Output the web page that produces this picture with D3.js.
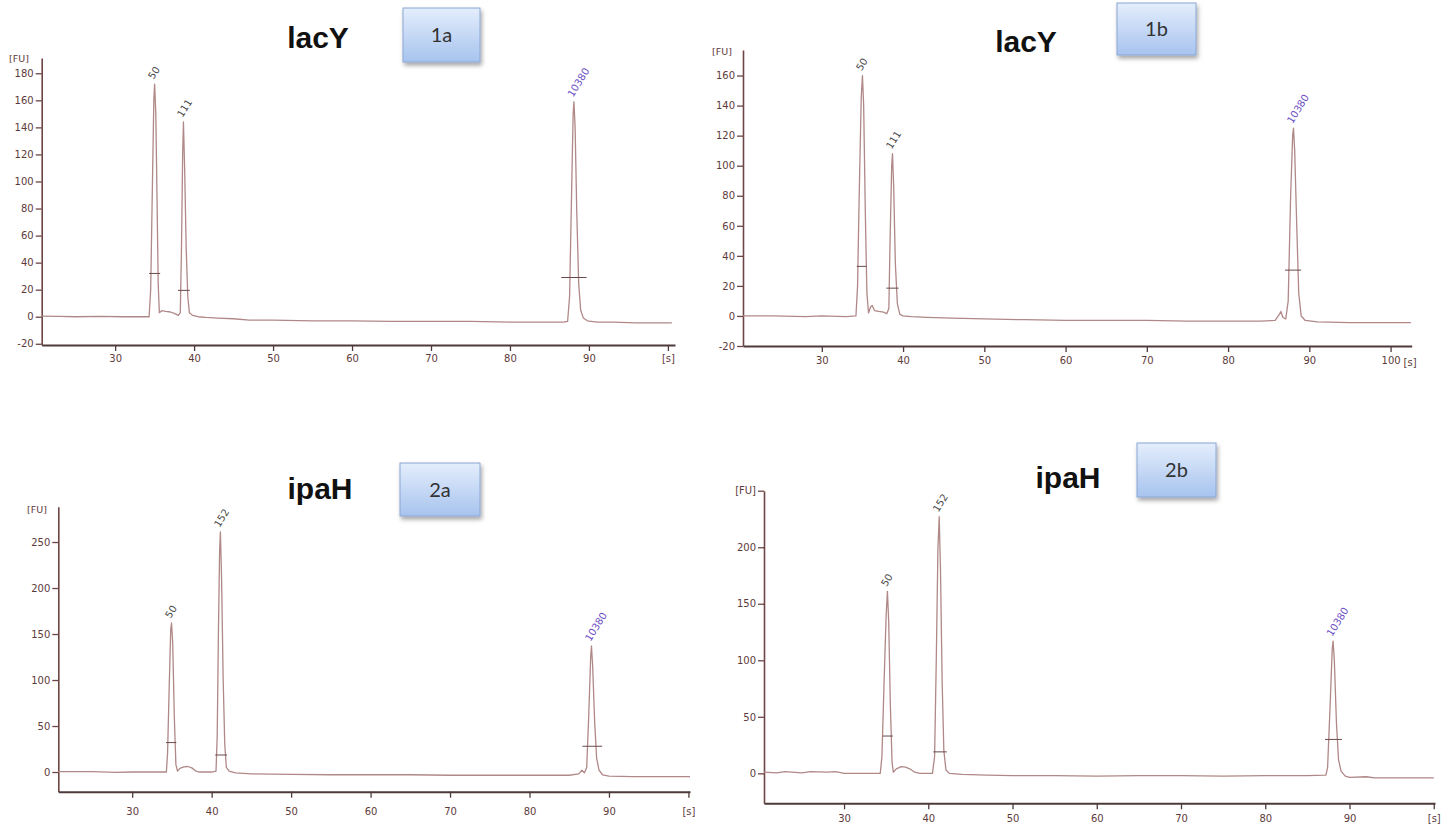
<!DOCTYPE html>
<html><head><meta charset="utf-8">
<script src="https://cdn.jsdelivr.net/npm/d3@7"></script>
<style>
body{margin:0;background:#fff;}
svg{display:block;}
.tick text{font-family:"DejaVu Sans",Verdana,sans-serif;font-size:10px;fill:#5e3b3b;}
</style></head>
<body>
<svg id="chart" width="1451" height="832"></svg>
<script>
// ---------- DATA ----------
const titles = ["lacY", "lacY", "ipaH", "ipaH"];
const boxLabels = ["1a", "1b", "2a", "2b"];

const yTicks1a = [-20, 0, 20, 40, 60, 80, 100, 120, 140, 160, 180];
const yTicks1b = [-20, 0, 20, 40, 60, 80, 100, 120, 140, 160];
const yTicks2a = [0, 50, 100, 150, 200, 250];
const yTicks2b = [0, 50, 100, 150, 200, 250];
const yTickLabels2b = ["0", "50", "100", "150", "200", "[FU]"];
const xTicks = [30, 40, 50, 60, 70, 80, 90, 100];
const xTickLabels = ["30", "40", "50", "60", "70", "80", "90", "[s]"];
const xTickLabels1b = ["30", "40", "50", "60", "70", "80", "90", "100"];

// electropherogram traces: [time s, fluorescence FU]
const trace1a = [[20.7,0.5],[23,0.3],[25,0],[28,0.2],[31,0],[33,0],[34.3,0],[34.5,20],[34.7,90],[34.9,160],[35.0,172],[35.15,150],[35.3,90],[35.45,25],[35.6,3],[35.9,4.5],[36.4,4],[37,3.5],[37.5,2.5],[38,1],[38.25,3],[38.4,50],[38.55,120],[38.65,144],[38.8,110],[39.0,50],[39.2,15],[39.4,3],[39.8,1],[40.5,0],[41.5,-0.5],[43,-1],[45,-1.5],[47,-2.5],[50,-2.5],[55,-3],[60,-3],[65,-3.5],[70,-3.5],[75,-3.5],[80,-4],[85,-4],[86.8,-4],[87.3,-3.5],[87.55,15],[87.8,90],[88.0,150],[88.1,159],[88.25,140],[88.45,80],[88.7,25],[88.95,5],[89.3,-1],[89.8,-3],[91,-4],[93,-4],[96,-4.5],[100.5,-4.5]];
const trace1b = [[20.3,0],[24,0],[28,-0.5],[30,0],[33,-0.5],[34.2,0],[34.4,20],[34.6,80],[34.85,145],[35.0,160],[35.15,140],[35.35,70],[35.55,15],[35.75,2],[36.0,6],[36.2,7],[36.5,3.5],[37,3],[37.6,2.5],[38.0,1.5],[38.25,5],[38.4,50],[38.6,100],[38.7,108],[38.85,85],[39.05,35],[39.3,8],[39.6,1],[40,0],[41,-0.5],[43,-1],[46,-1.5],[50,-2],[55,-2.5],[60,-3],[65,-3],[70,-3],[75,-3.5],[80,-3.5],[84,-3.5],[85.8,-3],[86.3,1],[86.5,3],[86.75,-1],[87.1,-2],[87.4,10],[87.7,80],[87.95,120],[88.05,125],[88.2,110],[88.45,60],[88.7,15],[89.0,0],[89.5,-3],[91,-4],[95,-4.5],[100,-4.5],[102.5,-4.5]];
const trace2a = [[20.7,0.5],[25,0.5],[28,-0.5],[30,0],[33,0],[34.3,0],[34.45,20],[34.65,90],[34.85,155],[34.95,162],[35.1,140],[35.3,60],[35.5,8],[35.7,1],[36,4],[36.5,5.5],[37,6],[37.5,4.5],[38,1],[38.5,0],[40,0],[40.55,1],[40.7,40],[40.85,150],[41.0,240],[41.1,261],[41.25,210],[41.45,100],[41.65,30],[41.85,5],[42.2,1],[43,-1],[45,-2],[50,-2.5],[55,-3],[60,-3],[65,-3],[70,-3.5],[75,-3.5],[80,-3.5],[85,-3.5],[86.2,-2],[86.6,2],[86.9,-1],[87.2,5],[87.45,60],[87.7,125],[87.8,137],[87.95,115],[88.2,55],[88.45,15],[88.75,2],[89.2,-3],[90,-4.5],[93,-5],[97,-5],[100.2,-5]];
const trace2b = [[20.5,1],[22,0.5],[23,1.5],[25,0.5],[26,1.5],[28,1],[29,1.5],[30,0],[32,0],[34.3,0],[34.5,15],[34.75,80],[35.0,140],[35.15,161],[35.3,135],[35.5,60],[35.7,10],[35.85,1],[36.2,4],[36.8,6],[37.3,5.5],[37.8,4],[38.4,1],[39,0],[40.5,0],[40.75,15],[40.95,100],[41.15,200],[41.3,227],[41.45,180],[41.65,80],[41.85,20],[42.1,3],[42.5,0],[44,-1],[47,-1.5],[50,-2],[55,-2],[60,-2.5],[65,-2],[70,-2],[75,-2.5],[80,-2],[85,-2],[87.2,-1.5],[87.4,5],[87.7,60],[87.95,110],[88.05,117],[88.2,100],[88.45,45],[88.7,12],[89.0,2],[89.5,-2.5],[90,-3.5],[92,-3],[93,-4],[96,-4],[100,-4]];

// peak markers: [time, FU level, half width in s]
const markers1a = [[35.0,32,0.7],[38.7,19.5,0.75],[88.1,29,1.6]];
const markers1b = [[34.9,33,0.6],[38.7,18.5,0.75],[88.0,30.5,1.0]];
const markers2a = [[34.9,32,0.65],[41.2,18.5,0.75],[87.9,28,1.25]];
const markers2b = [[35.2,33,0.6],[41.4,19,0.8],[88.1,30,1.0]];

// peak labels: [time, FU, label, isMarker]
const peaks1a = [[35.0,172,"50",0],[38.65,144,"111",0],[88.1,159,"10380",1]];
const peaks1b = [[35.0,160,"50",0],[38.7,108,"111",0],[88.05,125,"10380",1]];
const peaks2a = [[34.95,162,"50",0],[41.1,261,"152",0],[87.8,137,"10380",1]];
const peaks2b = [[35.15,161,"50",0],[41.3,227,"152",0],[88.05,117,"10380",1]];

// ---------- LAYOUT ----------
const panels = [
  {trace:trace1a, markers:markers1a, peaks:peaks1a, yTicks:yTicks1a, yLabels:null, xLabels:xTickLabels, extraS:false,
   xr:[41.7,675], xd:[20.7,100.9], yr:[345,58], yd:[-20.9,191.3], fu:[19,62], xpad:4,
   title:[318,48], box:[403,8,77,54]},
  {trace:trace1b, markers:markers1b, peaks:peaks1b, yTicks:yTicks1b, yLabels:null, xLabels:xTickLabels1b, extraS:true,
   xr:[743,1411.7], xd:[20.3,102.6], yr:[346,50], yd:[-20,177], fu:[722,55], xpad:5,
   title:[1026,52], box:[1117,3,79,52]},
  {trace:trace2a, markers:markers2a, peaks:peaks2a, yTicks:yTicks2a, yLabels:null, xLabels:xTickLabels, extraS:false,
   xr:[58.3,690], xd:[20.7,100.2], yr:[791.7,506.7], yd:[-21.4,288.4], fu:[37,513], xpad:10,
   title:[320,499], box:[400,463,80,53]},
  {trace:trace2b, markers:markers2b, peaks:peaks2b, yTicks:yTicks2b, yLabels:yTickLabels2b, xLabels:xTickLabels, extraS:false,
   xr:[764,1435], xd:[20.5,100.15], yr:[803.3,490.7], yd:[-26.5,250], fu:null, xpad:6,
   title:[1068,488], box:[1137,443,79,54]}
];

const svg = d3.select("#chart");
const defs = svg.append("defs");
const grad = defs.append("linearGradient").attr("id","boxg").attr("x1",0).attr("y1",0).attr("x2",0).attr("y2",1);
grad.append("stop").attr("offset","0%").attr("stop-color","#e4eefc");
grad.append("stop").attr("offset","100%").attr("stop-color","#a7c3ee");
const flt = defs.append("filter").attr("id","shadow").attr("x","-20%").attr("y","-20%").attr("width","150%").attr("height","160%");
flt.append("feDropShadow").attr("dx",1.5).attr("dy",3).attr("stdDeviation",2).attr("flood-color","#000").attr("flood-opacity",0.35);

const axisCol = "#6e4545";
const traceCol = "#b08888";

panels.forEach((p, i) => {
  const g = svg.append("g");
  const x = d3.scaleLinear().domain(p.xd).range(p.xr);
  const y = d3.scaleLinear().domain(p.yd).range(p.yr);

  // y axis
  const ya = d3.axisLeft(y).tickValues(p.yTicks).tickSize(6).tickSizeOuter(0).tickPadding(2)
    .tickFormat((d, k) => p.yLabels ? p.yLabels[k] : d);
  const yg = g.append("g").attr("transform", `translate(${p.xr[0]},0)`).call(ya);
  yg.select(".domain").attr("stroke", axisCol).attr("stroke-width", 1.6);
  yg.selectAll(".tick line").attr("stroke", axisCol).attr("stroke-width", 1.3);

  // x axis
  const xa = d3.axisBottom(x).tickValues(xTicks).tickSize(6).tickSizeOuter(0).tickPadding(p.xpad)
    .tickFormat((d, k) => p.xLabels[k]);
  const xg = g.append("g").attr("transform", `translate(0,${p.yr[0]})`).call(xa);
  xg.select(".domain").attr("stroke", "#4e3a3a").attr("stroke-width", 2);
  xg.selectAll(".tick line").attr("stroke", "#4e3a3a").attr("stroke-width", 1.3);
  if (p.extraS) {
    g.append("text").attr("x", x(100) + 13).attr("y", p.yr[0] + 6 + p.xpad + 9)
      .attr("font-family", "DejaVu Sans, Verdana, sans-serif").attr("font-size", 10).attr("fill", "#5e3b3b").text("[s]");
  }
  if (p.fu) {
    g.append("text").attr("x", p.fu[0]).attr("y", p.fu[1]).attr("text-anchor", "middle")
      .attr("font-family", "DejaVu Sans, Verdana, sans-serif").attr("font-size", 9.5).attr("fill", "#5e3b3b").text("[FU]");
  }

  // trace
  const line = d3.line().x(d => x(d[0])).y(d => y(d[1]));
  g.append("path").datum(p.trace).attr("d", line).attr("fill", "none")
    .attr("stroke", traceCol).attr("stroke-width", 1.3).attr("stroke-linejoin", "round");

  // markers
  g.selectAll(".mk").data(p.markers).join("line")
    .attr("x1", d => x(d[0] - d[2])).attr("x2", d => x(d[0] + d[2]))
    .attr("y1", d => y(d[1])).attr("y2", d => y(d[1]))
    .attr("stroke", "#6a4a4a").attr("stroke-width", 1);

  // peak labels
  g.selectAll(".pl").data(p.peaks).join("text")
    .attr("transform", d => `translate(${x(d[0]) - 1},${y(d[1]) - 4}) rotate(-58)`)
    .attr("font-family", "DejaVu Sans, Verdana, sans-serif").attr("font-size", 10)
    .attr("fill", d => d[3] ? "#6a4cc4" : "#4a4a4a")
    .text(d => d[2]);

  // title
  g.append("text").attr("x", p.title[0]).attr("y", p.title[1]).attr("text-anchor", "middle")
    .attr("font-family", "Liberation Sans, Arial, sans-serif").attr("font-weight", "bold")
    .attr("font-size", 30).attr("fill", "#111").text(titles[i]);

  // label box
  const b = p.box;
  g.append("rect").attr("x", b[0]).attr("y", b[1]).attr("width", b[2]).attr("height", b[3])
    .attr("fill", "url(#boxg)").attr("stroke", "#8aa6d4").attr("stroke-width", 1)
    .attr("filter", "url(#shadow)");
  g.append("text").attr("x", b[0] + b[2] / 2).attr("y", b[1] + b[3] / 2 + 7).attr("text-anchor", "middle")
    .attr("font-family", "Lato, Open Sans, sans-serif").attr("font-size", 20).attr("fill", "#333")
    .text(boxLabels[i]);
});
</script>
</body></html>
